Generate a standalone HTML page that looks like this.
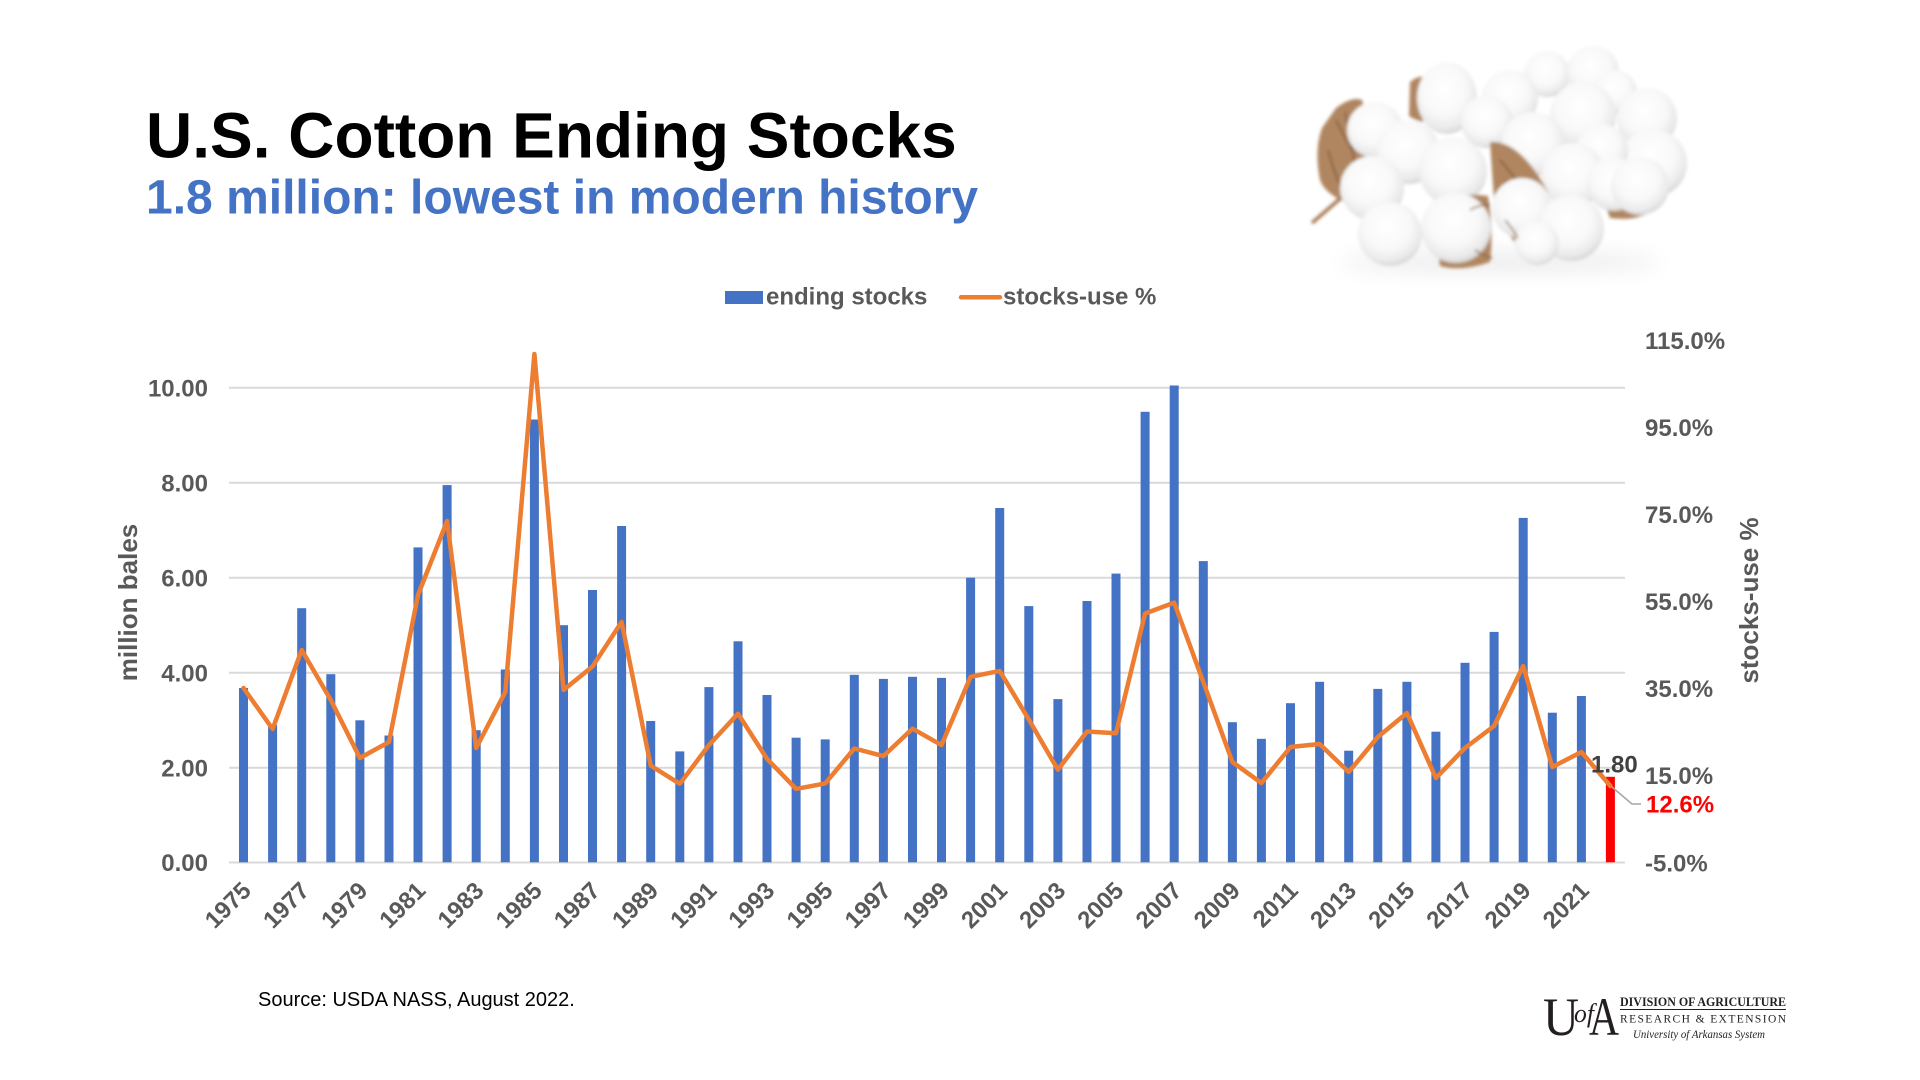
<!DOCTYPE html>
<html>
<head>
<meta charset="utf-8">
<style>
  html,body{margin:0;padding:0;background:#fff;}
  body{width:1920px;height:1080px;overflow:hidden;}
  svg{display:block;}
  .sans{font-family:"Liberation Sans",Arial,sans-serif;}
  .serif{font-family:"Liberation Serif","Times New Roman",serif;}
</style>
</head>
<body>
<svg width="1920" height="1080" viewBox="0 0 1920 1080" xmlns="http://www.w3.org/2000/svg">
  <defs>
    <radialGradient id="ball" cx="45%" cy="38%" r="62%">
      <stop offset="0" stop-color="#ffffff"/>
      <stop offset="0.6" stop-color="#f8f8f8"/>
      <stop offset="0.88" stop-color="#e9e9e9"/>
      <stop offset="1" stop-color="#d6d6d6"/>
    </radialGradient>
    <filter id="soft" x="-20%" y="-20%" width="140%" height="140%">
      <feGaussianBlur stdDeviation="1.5"/>
    </filter>
    <filter id="shadow" x="-30%" y="-100%" width="160%" height="300%">
      <feGaussianBlur stdDeviation="10"/>
    </filter>
  </defs>

  <!-- Title -->
  <text class="sans" x="146" y="157.5" font-size="64" font-weight="bold" fill="#000">U.S. Cotton Ending Stocks</text>
  <text class="sans" x="146" y="213.3" font-size="48" font-weight="bold" fill="#4472C4">1.8 million: lowest in modern history</text>

  <!-- Cotton image approximation -->
  <g>
    <ellipse cx="1500" cy="262" rx="160" ry="10" fill="#ececec" filter="url(#shadow)"/>
    <g filter="url(#soft)">
      <!-- back row -->
      <circle cx="1547" cy="74" r="23" fill="url(#ball)"/>
      <circle cx="1593" cy="72" r="26" fill="url(#ball)"/>
      <circle cx="1615" cy="92" r="22" fill="url(#ball)"/>
      <circle cx="1583" cy="115" r="33" fill="url(#ball)"/>
      <circle cx="1647" cy="118" r="30" fill="url(#ball)"/>
      <path d="M1668,142 Q1682,150 1684,172 Q1676,172 1672,168 Z" fill="#b08660"/>
      <circle cx="1653" cy="163" r="34" fill="url(#ball)"/>
      <circle cx="1602" cy="150" r="26" fill="url(#ball)"/>
      <path d="M1410,82 Q1420,74 1427,78 Q1428,100 1423,122 Q1414,120 1409,116 Z" fill="#b08660"/>
      <ellipse cx="1447" cy="98" rx="30" ry="36" fill="url(#ball)"/>
      <circle cx="1510" cy="98" r="28" fill="url(#ball)"/>
      <circle cx="1487" cy="122" r="26" fill="url(#ball)"/>
      <!-- left bract -->
      <path d="M1336,108 Q1352,96 1362,100 Q1372,130 1365,170 Q1356,192 1344,202 Q1324,192 1320,180 Q1314,150 1322,128 Z" fill="#b08660"/>
      <path d="M1336,120 Q1346,140 1352,150 M1345,112 Q1352,140 1356,175 M1328,150 Q1334,172 1342,190" stroke="#7a5333" stroke-width="1.5" fill="none"/>
      <line x1="1342" y1="197" x2="1312" y2="223" stroke="#a57a55" stroke-width="3.5"/>
      <circle cx="1375" cy="130" r="28" fill="url(#ball)"/>
      <circle cx="1408" cy="152" r="32" fill="url(#ball)"/>
      <circle cx="1533" cy="144" r="32" fill="url(#ball)"/>
      <circle cx="1573" cy="175" r="32" fill="url(#ball)"/>
      <circle cx="1453" cy="171" r="34" fill="url(#ball)"/>
      <circle cx="1372" cy="188" r="32" fill="url(#ball)"/>
      <!-- right bract -->
      <path d="M1600,190 Q1625,180 1655,208 Q1640,222 1610,218 Z" fill="#b08660"/>
      <circle cx="1614" cy="184" r="27" fill="url(#ball)"/>
      <circle cx="1640" cy="186" r="29" fill="url(#ball)"/>
      <!-- center bract -->
      <path d="M1490,142 Q1520,140 1548,192 Q1550,230 1544,252 Q1525,250 1516,244 Q1498,220 1494,200 Z" fill="#b08660"/>
      <path d="M1500,160 Q1516,178 1530,200 M1505,180 Q1522,205 1540,230" stroke="#7a5333" stroke-width="1.5" fill="none"/>
      <!-- bottom-center bract -->
      <path d="M1432,202 Q1460,192 1488,196 Q1494,230 1490,262 Q1462,272 1440,266 Z" fill="#b08660"/>
      <!-- front row -->
      <circle cx="1390" cy="234" r="32" fill="url(#ball)"/>
      <circle cx="1456" cy="228" r="35" fill="url(#ball)"/>
      <circle cx="1522" cy="208" r="30" fill="url(#ball)"/>
      <circle cx="1571" cy="228" r="33" fill="url(#ball)"/>
      <circle cx="1537" cy="243" r="22" fill="url(#ball)"/>
      <path d="M1470,210 Q1480,204 1490,205 M1475,250 Q1484,256 1492,258 M1505,220 Q1512,228 1518,238" stroke="#8a6040" stroke-width="1.5" fill="none"/>
    </g>
  </g>

  <!-- Legend -->
  <rect x="725" y="291" width="38" height="13" fill="#4472C4"/>
  <text class="sans" x="766" y="304.5" font-size="24" font-weight="bold" fill="#595959">ending stocks</text>
  <line x1="961" y1="297.3" x2="1000" y2="297.3" stroke="#ED7D31" stroke-width="4.5" stroke-linecap="round"/>
  <text class="sans" x="1003" y="304.5" font-size="24" font-weight="bold" fill="#595959">stocks-use %</text>

  <!-- Gridlines -->
  <g stroke="#d9d9d9" stroke-width="2">
    <line x1="229" y1="387.8" x2="1625" y2="387.8"/>
    <line x1="229" y1="482.7" x2="1625" y2="482.7"/>
    <line x1="229" y1="577.7" x2="1625" y2="577.7"/>
    <line x1="229" y1="672.7" x2="1625" y2="672.7"/>
    <line x1="229" y1="767.7" x2="1625" y2="767.7"/>
    <line x1="229" y1="862.5" x2="1625" y2="862.5"/>
  </g>

  <!-- Left axis labels -->
  <g class="sans" font-size="24" font-weight="bold" fill="#595959" text-anchor="end">
    <text x="208" y="396.4">10.00</text>
    <text x="208" y="491.3">8.00</text>
    <text x="208" y="586.3">6.00</text>
    <text x="208" y="681.3">4.00</text>
    <text x="208" y="776.3">2.00</text>
    <text x="208" y="871.1">0.00</text>
  </g>

  <!-- Right axis labels -->
  <g class="sans" font-size="24" font-weight="bold" fill="#595959">
    <text x="1645" y="348.8">115.0%</text>
    <text x="1645" y="435.9">95.0%</text>
    <text x="1645" y="523.0">75.0%</text>
    <text x="1645" y="610.0">55.0%</text>
    <text x="1645" y="697.1">35.0%</text>
    <text x="1645" y="784.2">15.0%</text>
    <text x="1645" y="871.3">-5.0%</text>
  </g>

  <!-- Axis titles -->
  <text class="sans" transform="translate(137,602.5) rotate(-90)" text-anchor="middle" font-size="26" font-weight="bold" fill="#595959">million bales</text>
  <text class="sans" transform="translate(1758,600.5) rotate(-90)" text-anchor="middle" font-size="26" font-weight="bold" fill="#595959">stocks-use %</text>

  <!-- Bars -->
  <g fill="#4472C4">
    <rect x="239.0" y="688.0" width="9" height="174.3"/>
    <rect x="268.1" y="725.0" width="9" height="137.3"/>
    <rect x="297.2" y="608.2" width="9" height="254.1"/>
    <rect x="326.3" y="674.2" width="9" height="188.1"/>
    <rect x="355.4" y="720.3" width="9" height="142.0"/>
    <rect x="384.5" y="735.5" width="9" height="126.8"/>
    <rect x="413.5" y="547.4" width="9" height="314.9"/>
    <rect x="442.6" y="485.1" width="9" height="377.2"/>
    <rect x="471.7" y="730.2" width="9" height="132.1"/>
    <rect x="500.8" y="669.5" width="9" height="192.8"/>
    <rect x="529.9" y="419.5" width="9" height="442.8"/>
    <rect x="559.0" y="625.2" width="9" height="237.1"/>
    <rect x="588.0" y="590.0" width="9" height="272.3"/>
    <rect x="617.1" y="526.0" width="9" height="336.3"/>
    <rect x="646.2" y="721.0" width="9" height="141.3"/>
    <rect x="675.3" y="751.4" width="9" height="110.9"/>
    <rect x="704.4" y="687.1" width="9" height="175.2"/>
    <rect x="733.5" y="641.3" width="9" height="221.0"/>
    <rect x="762.5" y="695.0" width="9" height="167.3"/>
    <rect x="791.6" y="737.7" width="9" height="124.6"/>
    <rect x="820.7" y="739.4" width="9" height="122.9"/>
    <rect x="849.8" y="674.8" width="9" height="187.5"/>
    <rect x="878.9" y="678.9" width="9" height="183.4"/>
    <rect x="908.0" y="676.8" width="9" height="185.5"/>
    <rect x="937.0" y="677.9" width="9" height="184.4"/>
    <rect x="966.1" y="577.7" width="9" height="284.6"/>
    <rect x="995.2" y="508.0" width="9" height="354.3"/>
    <rect x="1024.3" y="606.1" width="9" height="256.2"/>
    <rect x="1053.4" y="699.1" width="9" height="163.2"/>
    <rect x="1082.5" y="601.0" width="9" height="261.3"/>
    <rect x="1111.5" y="573.6" width="9" height="288.7"/>
    <rect x="1140.6" y="411.8" width="9" height="450.5"/>
    <rect x="1169.7" y="385.5" width="9" height="476.8"/>
    <rect x="1198.8" y="561.1" width="9" height="301.2"/>
    <rect x="1227.9" y="722.2" width="9" height="140.1"/>
    <rect x="1256.9" y="738.8" width="9" height="123.5"/>
    <rect x="1286.0" y="703.2" width="9" height="159.1"/>
    <rect x="1315.1" y="681.8" width="9" height="180.5"/>
    <rect x="1344.2" y="750.7" width="9" height="111.6"/>
    <rect x="1373.3" y="688.9" width="9" height="173.4"/>
    <rect x="1402.4" y="681.8" width="9" height="180.5"/>
    <rect x="1431.4" y="731.7" width="9" height="130.6"/>
    <rect x="1460.5" y="662.8" width="9" height="199.5"/>
    <rect x="1489.6" y="631.9" width="9" height="230.4"/>
    <rect x="1518.7" y="517.9" width="9" height="344.4"/>
    <rect x="1547.8" y="712.7" width="9" height="149.6"/>
    <rect x="1576.9" y="696.0" width="9" height="166.3"/>
  </g>
  <rect x="1605.9" y="776.8" width="9" height="85.5" fill="#FF0000"/>

  <!-- Line -->
  <polyline fill="none" stroke="#ED7D31" stroke-width="4.5" stroke-linejoin="round" stroke-linecap="round"
    points="243.5,688 272.6,729 301.7,650 330.8,700 359.9,758 389.0,742 418.0,595 447.1,521 476.2,748 505.3,692 534.4,354 563.5,690 592.5,666.5 621.6,622 650.7,765.6 679.8,783.8 708.9,745.1 738.0,713.7 767.0,758.8 796.1,788.9 825.2,783.4 854.3,748.5 883.4,756.1 912.5,728.7 941.5,745.1 970.6,676.8 999.7,670.9 1028.8,719.5 1057.9,769.7 1087.0,731.5 1116.0,733.2 1145.1,613.5 1174.2,602.6 1203.3,682 1232.4,762 1261.4,783 1290.5,747 1319.6,744 1348.7,772 1377.8,737 1406.9,713 1435.9,778 1465.0,748 1494.1,726 1523.2,666 1552.3,767 1581.4,752 1610.4,786"/>

  <!-- Data labels -->
  <text class="sans" x="1591" y="772.6" font-size="24" font-weight="bold" fill="#404040">1.80</text>
  <polyline points="1612,787 1632,804 1641,804" fill="none" stroke="#a6a6a6" stroke-width="1.5"/>
  <text class="sans" x="1646" y="812.6" font-size="24" font-weight="bold" fill="#FF0000">12.6%</text>

  <!-- X axis labels -->
  <g class="sans" font-size="24" font-weight="bold" fill="#595959" text-anchor="end">
    <text transform="translate(252.5,892) rotate(-45)">1975</text>
    <text transform="translate(310.7,892) rotate(-45)">1977</text>
    <text transform="translate(368.9,892) rotate(-45)">1979</text>
    <text transform="translate(427.0,892) rotate(-45)">1981</text>
    <text transform="translate(485.2,892) rotate(-45)">1983</text>
    <text transform="translate(543.4,892) rotate(-45)">1985</text>
    <text transform="translate(601.5,892) rotate(-45)">1987</text>
    <text transform="translate(659.7,892) rotate(-45)">1989</text>
    <text transform="translate(717.9,892) rotate(-45)">1991</text>
    <text transform="translate(776.0,892) rotate(-45)">1993</text>
    <text transform="translate(834.2,892) rotate(-45)">1995</text>
    <text transform="translate(892.4,892) rotate(-45)">1997</text>
    <text transform="translate(950.5,892) rotate(-45)">1999</text>
    <text transform="translate(1008.7,892) rotate(-45)">2001</text>
    <text transform="translate(1066.9,892) rotate(-45)">2003</text>
    <text transform="translate(1125.0,892) rotate(-45)">2005</text>
    <text transform="translate(1183.2,892) rotate(-45)">2007</text>
    <text transform="translate(1241.4,892) rotate(-45)">2009</text>
    <text transform="translate(1299.5,892) rotate(-45)">2011</text>
    <text transform="translate(1357.7,892) rotate(-45)">2013</text>
    <text transform="translate(1415.9,892) rotate(-45)">2015</text>
    <text transform="translate(1474.0,892) rotate(-45)">2017</text>
    <text transform="translate(1532.2,892) rotate(-45)">2019</text>
    <text transform="translate(1590.4,892) rotate(-45)">2021</text>
  </g>

  <!-- Source -->
  <text class="sans" x="258" y="1006" font-size="20" fill="#000">Source: USDA NASS, August 2022.</text>

  <!-- Logo -->
  <g fill="#231f20">
    <text class="serif" x="1543" y="1035" font-size="54" textLength="36" lengthAdjust="spacingAndGlyphs">U</text>
    <text class="serif" x="1574" y="1022" font-size="26" font-style="italic" textLength="20" lengthAdjust="spacingAndGlyphs">of</text>
    <text class="serif" x="1589" y="1035" font-size="54" textLength="30" lengthAdjust="spacingAndGlyphs">A</text>
    <text class="serif" x="1620" y="1006" font-size="13" font-weight="bold" textLength="166" lengthAdjust="spacingAndGlyphs">DIVISION OF AGRICULTURE</text>
    <rect x="1620" y="1009" width="166" height="1"/>
    <text class="serif" x="1620" y="1022.5" font-size="11.5" textLength="166" lengthAdjust="spacing">RESEARCH &amp; EXTENSION</text>
    <text class="serif" x="1633" y="1038" font-size="11.5" font-style="italic" textLength="132" lengthAdjust="spacingAndGlyphs">University of Arkansas System</text>
  </g>
</svg>
</body>
</html>
